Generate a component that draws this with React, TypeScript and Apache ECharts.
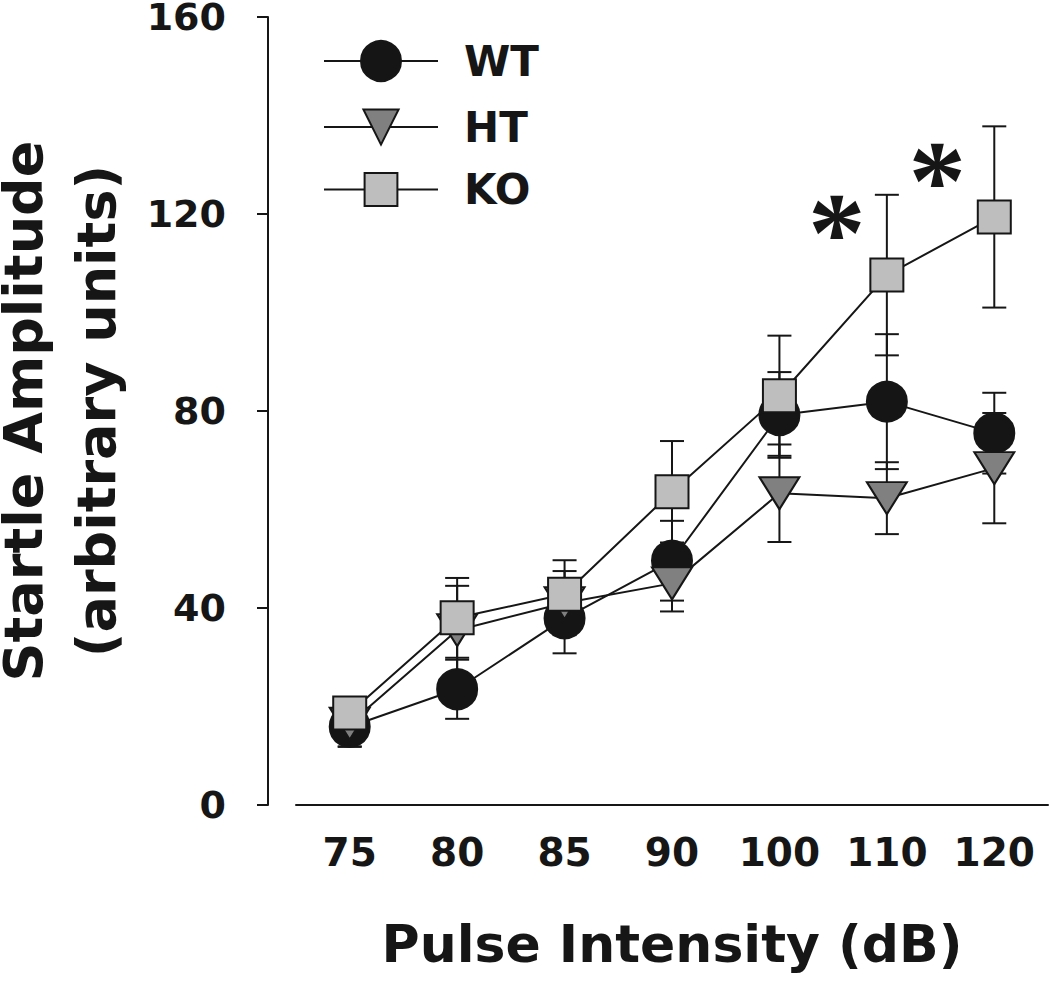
import React, { useEffect, useRef } from "react";
import * as echarts from "echarts";

const categories = ["75", "80", "85", "90", "100", "110", "120"];
const wtMean = [15.9, 23.5, 37.9, 49.6, 79.2, 81.9, 75.5];
const wtErr = [4.0, 6.0, 7.1, 8.1, 8.7, 13.7, 8.2];
const htMean = [16.5, 35.5, 41.0, 45.0, 63.3, 62.3, 68.4];
const htErr = [4.7, 9.0, 6.5, 5.7, 9.9, 7.3, 11.2];
const koMean = [18.7, 38.0, 42.8, 63.6, 83.1, 107.6, 119.4];
const koErr = [2.5, 8.1, 6.9, 10.3, 12.2, 16.3, 18.4];
const koSignificant = [false, false, false, false, false, true, true];
const yTicks = [0, 40, 80, 120, 160];

const FONT = "DejaVu Sans";
const INK = "#161616";

function errData(mean: number[], err: number[]) {
  return mean.map((m, i) => [i, m - err[i], m + err[i]]);
}

function errorSeries(name: string, mean: number[], err: number[]) {
  return {
    name,
    type: "custom",
    z: 1,
    data: errData(mean, err),
    renderItem: (params: any, api: any) => {
      const lo = api.coord([api.value(0), api.value(1)]);
      const hi = api.coord([api.value(0), api.value(2)]);
      const half = 12;
      const style = { stroke: INK, lineWidth: 2 };
      return {
        type: "group",
        children: [
          { type: "line", shape: { x1: lo[0], y1: lo[1], x2: hi[0], y2: hi[1] }, style },
          { type: "line", shape: { x1: lo[0] - half, y1: lo[1], x2: lo[0] + half, y2: lo[1] }, style },
          { type: "line", shape: { x1: hi[0] - half, y1: hi[1], x2: hi[0] + half, y2: hi[1] }, style },
        ],
      };
    },
  };
}

export default function App() {
  const ref = useRef<HTMLDivElement>(null);
  useEffect(() => {
    if (!ref.current) return;
    const chart = echarts.init(ref.current, null, { renderer: "svg" });
    const lineBase = {
      type: "line",
      z: 3,
      lineStyle: { color: INK, width: 2 },
      itemStyle: { borderColor: INK, borderWidth: 2 },
      emphasis: { disabled: true },
    };
    const koOffsets: Record<number, number[]> = { 5: [-50, -43], 6: [-57, -36] };
    const legendText = { fontFamily: FONT, fontWeight: "bold", fontSize: 42, color: INK, padding: [0, 0, 0, 21] };
    const option: any = {
      animation: false,
      backgroundColor: "#ffffff",
      textStyle: { fontFamily: FONT },
      grid: { left: 296, right: 2, top: 17, height: 788, outerBoundsMode: "none", containLabel: false },
      legend: [
        { data: ["WT"], left: 323, top: 40, padding: 0, itemWidth: 114, itemHeight: 50, symbolRotate: "inherit", textStyle: legendText },
        { data: ["HT"], left: 323, top: 106, padding: 0, itemWidth: 114, itemHeight: 44, symbolRotate: "inherit", textStyle: legendText },
        { data: ["KO"], left: 323, top: 168.5, padding: 0, itemWidth: 114, itemHeight: 41, symbolRotate: "inherit", textStyle: legendText },
      ],
      xAxis: {
        type: "category",
        data: categories,
        boundaryGap: true,
        name: "Pulse Intensity (dB)",
        nameLocation: "middle",
        nameGap: 113,
        nameTextStyle: { fontFamily: FONT, fontWeight: "bold", fontSize: 52, color: INK },
        axisLine: { lineStyle: { color: INK, width: 2 } },
        axisTick: { alignWithLabel: true, length: 12, lineStyle: { color: INK, width: 2 } },
        axisLabel: { interval: 0, fontFamily: FONT, fontWeight: "bold", fontSize: 39, color: INK, margin: 28 },
        splitLine: { show: false },
      },
      yAxis: {
        type: "value",
        min: yTicks[0],
        max: yTicks[yTicks.length - 1],
        interval: 40,
        offset: 28,
        name: "Startle Amplitude\n(arbitrary units)",
        nameLocation: "middle",
        nameRotate: 90,
        nameGap: 135,
        nameTextStyle: { fontFamily: FONT, fontWeight: "bold", fontSize: 54, color: INK, lineHeight: 73 },
        axisLine: { show: true, lineStyle: { color: INK, width: 2 } },
        axisTick: { show: true, length: 11, lineStyle: { color: INK, width: 2 } },
        axisLabel: { fontFamily: FONT, fontWeight: "bold", fontSize: 38, lineHeight: 28, color: INK, margin: 42 },
        splitLine: { show: false },
      },
      series: [
        errorSeries("WT err", wtMean, wtErr),
        errorSeries("HT err", htMean, htErr),
        errorSeries("KO err", koMean, koErr),
        {
          ...lineBase,
          name: "WT",
          data: wtMean,
          symbol: "circle",
          symbolSize: 40,
          itemStyle: { color: "#151515", borderColor: INK, borderWidth: 2 },
        },
        {
          ...lineBase,
          name: "HT",
          z: 4,
          data: htMean,
          symbol: "triangle",
          symbolSize: [40, 32],
          symbolRotate: 180,
          itemStyle: { color: "#808080", borderColor: INK, borderWidth: 2 },
        },
        {
          ...lineBase,
          name: "KO",
          z: 5,
          data: koMean.map((v, i) =>
            koSignificant[i]
              ? {
                  value: v,
                  label: {
                    show: true,
                    formatter: "*",
                    position: "inside",
                    offset: koOffsets[i] || [-50, -43],
                    fontFamily: "Liberation Serif",
                    fontWeight: "bold",
                    fontSize: 115,
                    color: INK,
                  },
                }
              : v
          ),
          symbol: "rect",
          symbolSize: 33,
          itemStyle: { color: "#bebebe", borderColor: INK, borderWidth: 2 },
        },
      ],
    };
    chart.setOption(option);
    return () => chart.dispose();
  }, []);
  return (
    <div
      ref={ref}
      style={{ position: "absolute", left: 0, top: 0, width: 1050, height: 997, background: "#fff" }}
    />
  );
}
